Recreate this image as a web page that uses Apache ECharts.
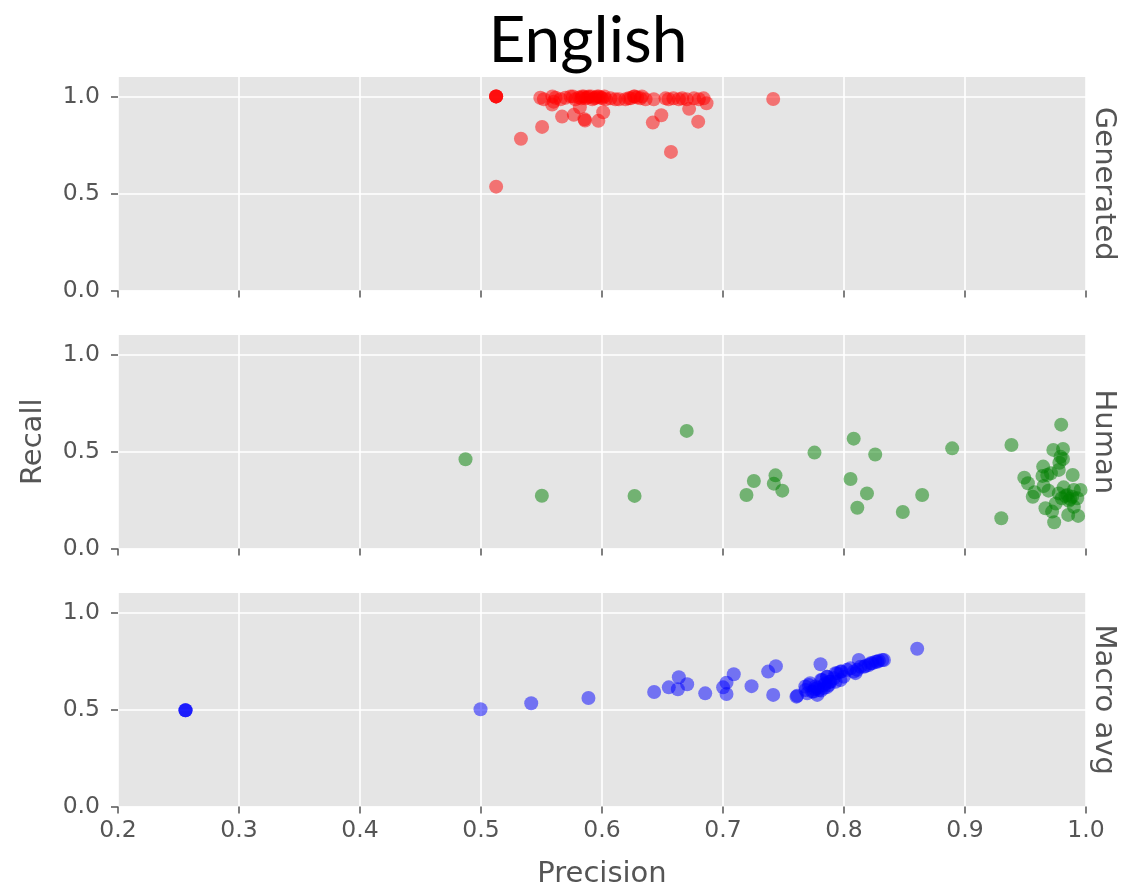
<!DOCTYPE html>
<html>
<head>
<meta charset="utf-8">
<script src="https://cdn.jsdelivr.net/npm/echarts@6/dist/echarts.min.js"></script>
<style>
html,body{margin:0;padding:0;background:#fff;}
#chart{width:1122px;height:886px;}
</style>
</head>
<body>
<div id="chart"></div>
<script>
// ---- Data ----
const panelNames = ['Generated', 'Human', 'Macro avg'];
const xTicks = [0.2, 0.3, 0.4, 0.5, 0.6, 0.7, 0.8, 0.9, 1.0];
const yTicks = [0.0, 0.5, 1.0];

const generatedPrecision = [
  0.5125, 0.5125, 0.5125, 0.5125, 0.5125, 0.533, 0.5505, 0.567, 0.5767, 0.5817,
  0.5855, 0.586, 0.597, 0.601, 0.642, 0.649, 0.657, 0.672, 0.6795, 0.6864,
  0.7415, 0.5588, 0.5600,
  0.549, 0.552, 0.559, 0.5616, 0.5657, 0.5698, 0.574, 0.578, 0.581, 0.5836,
  0.5864, 0.589, 0.592, 0.5946, 0.5974, 0.600, 0.603, 0.607, 0.611, 0.6194,
  0.6236, 0.6263, 0.629, 0.6318, 0.636, 0.6428, 0.6525, 0.655, 0.659, 0.6635,
  0.6663, 0.670, 0.676, 0.680, 0.684,
  0.576, 0.583, 0.585, 0.588, 0.591, 0.594, 0.596, 0.599, 0.602, 0.622,
  0.633, 0.614, 0.627
];
const generatedRecall = [
  1.0, 1.0, 1.0, 1.0, 0.535, 0.782, 0.843, 0.896, 0.905, 0.944,
  0.882, 0.876, 0.874, 0.918, 0.865, 0.903, 0.714, 0.936, 0.870, 0.965,
  0.987, 0.958, 0.973,
  0.993, 0.985, 1.0, 0.993, 0.985, 0.993, 1.0, 0.985, 0.995, 1.0,
  0.99, 1.0, 0.985, 0.995, 1.0, 0.99, 0.985, 0.99, 0.985, 0.985,
  0.99, 1.0, 0.995, 0.99, 0.985, 0.985, 0.99, 0.985, 0.99, 0.985,
  0.99, 0.985, 0.99, 0.985, 0.99,
  1.0, 0.99, 1.0, 0.995, 1.0, 0.99, 1.0, 0.995, 1.0, 0.99,
  1.0, 0.985, 1.0
];

const humanPrecision = [
  0.4872, 0.5503, 0.6269, 0.670, 0.7194, 0.7255, 0.7434, 0.742, 0.749, 0.7756,
  0.808, 0.8258, 0.8054, 0.819, 0.811, 0.8486, 0.8646, 0.8894, 0.9384, 0.930,
  0.9795, 0.973, 0.981, 0.979, 0.981, 0.978, 0.9646, 0.9775, 0.971, 0.968,
  0.964, 0.989, 0.949, 0.952, 0.965, 0.969, 0.9575, 0.956, 0.9815, 0.990,
  0.9955, 0.9775, 0.9845, 0.9886, 0.980, 0.9927, 0.9858, 0.975, 0.990, 0.9665,
  0.972, 0.9853, 0.9935, 0.9737, 0.983, 0.987
];
const humanRecall = [
  0.460, 0.272, 0.271, 0.606, 0.276, 0.348, 0.377, 0.334, 0.298, 0.494,
  0.566, 0.484, 0.358, 0.284, 0.210, 0.188, 0.276, 0.516, 0.533, 0.156,
  0.638, 0.508, 0.513, 0.473, 0.461, 0.442, 0.422, 0.405, 0.388, 0.379,
  0.374, 0.379, 0.365, 0.336, 0.322, 0.298, 0.290, 0.267, 0.315, 0.302,
  0.302, 0.284, 0.276, 0.267, 0.259, 0.259, 0.246, 0.232, 0.215, 0.207,
  0.190, 0.173, 0.168, 0.135, 0.270, 0.255
];

const macroPrecision = [
  0.2558, 0.2558, 0.2558, 0.4996, 0.5415, 0.5888, 0.6431, 0.6552, 0.6635, 0.6627,
  0.6704, 0.6853, 0.7001, 0.7029, 0.7089, 0.7029, 0.7236, 0.7373, 0.7437, 0.7415,
  0.7607, 0.8605, 0.7806, 0.8122, 0.8316, 0.7613,
  0.7682, 0.771, 0.7737, 0.7764, 0.7792, 0.782, 0.7847, 0.7861, 0.7888, 0.7916,
  0.7944, 0.7971, 0.7998, 0.8026, 0.8054, 0.8081, 0.8109, 0.8136, 0.8178, 0.8205,
  0.8233, 0.826, 0.8288,
  0.7696, 0.7779, 0.7834, 0.7875, 0.793, 0.776, 0.781, 0.786,
  0.768, 0.772, 0.775, 0.778, 0.781, 0.7835, 0.786, 0.788, 0.793, 0.797,
  0.798, 0.8095, 0.8164, 0.822, 0.8275, 0.833
];
const macroRecall = [
  0.496, 0.496, 0.496, 0.501, 0.532, 0.559, 0.590, 0.614, 0.666, 0.604,
  0.630, 0.583, 0.614, 0.638, 0.681, 0.580, 0.620, 0.695, 0.723, 0.575,
  0.566, 0.813, 0.733, 0.755, 0.755, 0.570,
  0.600, 0.626, 0.592, 0.618, 0.600, 0.652, 0.635, 0.669, 0.643, 0.661,
  0.687, 0.695, 0.669, 0.704, 0.712, 0.695, 0.704, 0.720, 0.724, 0.729,
  0.738, 0.746, 0.751,
  0.583, 0.575, 0.610, 0.626, 0.643, 0.605, 0.598, 0.615,
  0.618, 0.635, 0.592, 0.610, 0.652, 0.626, 0.669, 0.643, 0.687, 0.652,
  0.695, 0.687, 0.720, 0.738, 0.746, 0.755
];

const panelColors = ['rgba(255,0,0,0.5)', 'rgba(0,128,0,0.5)', 'rgba(0,0,255,0.5)'];

// ---- Chart ----
const zip = (a, b) => a.map((v, i) => [v, b[i]]);
const panelData = [
  zip(generatedPrecision, generatedRecall),
  zip(humanPrecision, humanRecall),
  zip(macroPrecision, macroRecall)
];

const tops = [77, 335, 593];
const gridH = 213.5;
const gridL = 118, gridW = 968;
const grey = '#555555';
const FONT = 'DejaVu Sans';

const grids = tops.map(t => ({
  left: gridL, width: gridW, top: t, height: gridH,
  outerBoundsMode: 'none', containLabel: false,
  show: true, backgroundColor: '#E5E5E5', borderWidth: 0
}));

const xAxes = tops.map((t, i) => ({
  type: 'value', gridIndex: i, min: 0.2, max: 1.0, interval: 0.1,
  axisLine: { show: false },
  axisTick: { show: true, inside: false, length: 7, lineStyle: { color: grey, width: 1.5 }, customValues: xTicks },
  axisLabel: {
    show: i === 2, customValues: xTicks, color: grey, fontFamily: FONT, fontSize: 23.5, margin: 12,
    formatter: v => v.toFixed(1)
  },
  splitLine: { show: true, lineStyle: { color: '#ffffff', width: 1.6 } },
  name: i === 2 ? 'Precision' : '',
  nameLocation: 'middle', nameGap: 53,
  nameTextStyle: { color: grey, fontFamily: FONT, fontSize: 29 }
}));

const yAxes = tops.map((t, i) => ({
  type: 'value', gridIndex: i, min: 0, max: 1.1,
  axisLine: { show: false },
  axisTick: { show: true, inside: false, length: 7, lineStyle: { color: grey, width: 1.5 }, customValues: yTicks },
  axisLabel: {
    show: true, customValues: yTicks, color: grey, fontFamily: FONT, fontSize: 23.5, margin: 18,
    formatter: v => v.toFixed(1)
  },
  splitLine: { show: true, lineStyle: { color: '#ffffff', width: 1.6 } },
  name: i === 1 ? 'Recall' : '',
  nameLocation: 'middle', nameGap: 70,
  nameTextStyle: { color: grey, fontFamily: FONT, fontSize: 29 }
}));

const series = panelData.map((d, i) => ({
  type: 'scatter', xAxisIndex: i, yAxisIndex: i, data: d,
  symbol: 'circle', symbolSize: 14,
  itemStyle: { color: panelColors[i], opacity: 1 },
  emphasis: { disabled: true },
  animation: false
}));

const graphics = [
  {
    type: 'text', x: 588, y: 41,
    style: { text: 'English', fontFamily: 'Lato', fontSize: 64, fill: '#000', align: 'center', verticalAlign: 'middle' }
  }
].concat(panelNames.map((n, i) => ({
  type: 'text', x: 1104, y: tops[i] + gridH / 2, rotation: -Math.PI / 2,
  style: { text: n, fontFamily: FONT, fontSize: 29, fill: grey, align: 'center', verticalAlign: 'middle' }
})));

const chart = echarts.init(document.getElementById('chart'), null, { renderer: 'canvas' });
chart.setOption({
  animation: false,
  backgroundColor: '#ffffff',
  grid: grids,
  xAxis: xAxes,
  yAxis: yAxes,
  series: series,
  graphic: graphics
});
</script>
</body>
</html>
